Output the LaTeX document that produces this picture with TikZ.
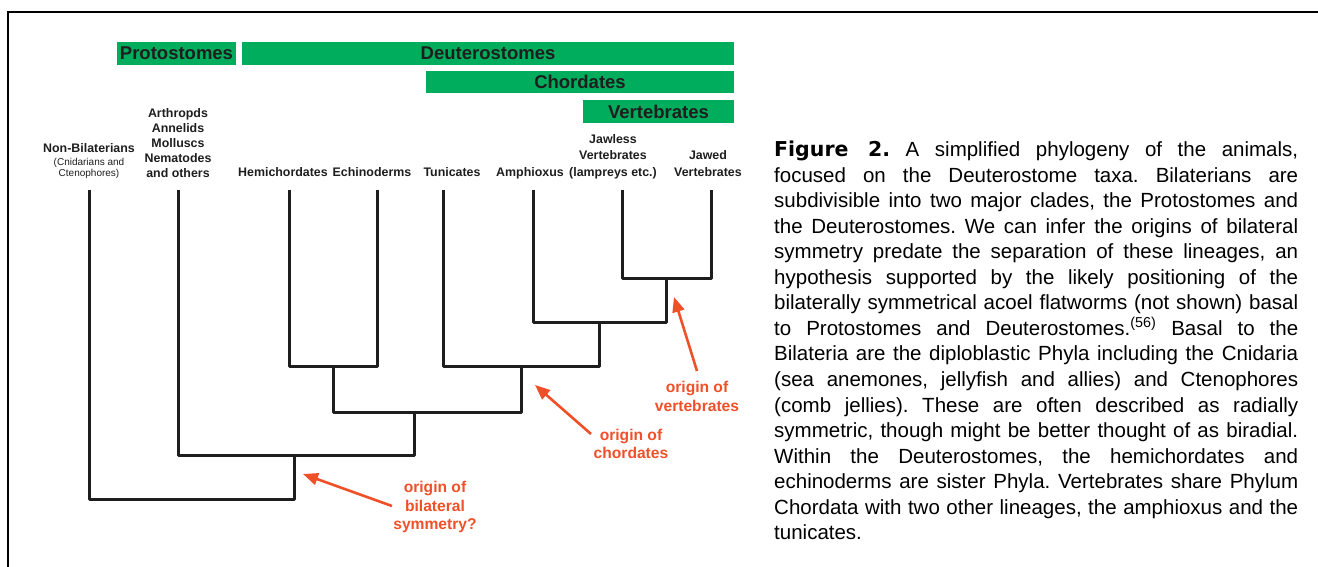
\documentclass[tikz,border=0pt]{standalone}
\usepackage{fontspec}
\setmainfont{Liberation Sans}
\newfontfamily\dejavu{DejaVu Sans}
\usetikzlibrary{arrows.meta}
\frenchspacing
\definecolor{cladegreen}{RGB}{0,173,92}
\definecolor{annot}{RGB}{240,80,40}
\definecolor{ink}{RGB}{30,30,30}
\tikzset{
  clade/.style={fill=cladegreen, inner sep=0pt, font=\bfseries\fontsize{18.5}{20}\selectfont, text=ink},
  leaflabel/.style={anchor=south, inner sep=0pt, text depth=0pt, align=center, font=\bfseries\fontsize{12.4}{15}\selectfont, text=ink},
  branch/.style={line width=3pt, draw=ink, line join=round},
  note/.style={anchor=south, inner sep=0pt, text depth=0pt, align=center, font=\bfseries\fontsize{15.6}{18.5}\selectfont, text=annot},
  pointer/.style={line width=2.6pt, draw=annot, -{Triangle[length=15pt,width=12pt]}},
  framestyle/.style={line width=2.5pt, draw=black},
}
\begin{document}
\begin{tikzpicture}[x=1pt,y=-1pt]
\useasboundingbox (0,0) rectangle (1318,567);
% frame
\draw[framestyle] (8,570) -- (8,12) -- (1320,12);
% clade bars
\node[clade, minimum width=119pt, minimum height=23pt] (pro) at (176.5,53.5) {Protostomes};
\node[clade, minimum width=492pt, minimum height=23pt] (deu) at (488,53.5) {Deuterostomes};
\node[clade, minimum width=308pt, minimum height=22pt] (cho) at (580,82) {Chordates};
\node[clade, minimum width=151pt, minimum height=23pt] (ver) at (658.5,111.5) {Vertebrates};
% leaf labels
\node[leaflabel] (lnb) at (89,153) {Non-Bilaterians};
\node[leaflabel, font=\fontsize{10}{11}\selectfont] (lnbs) at (89,176.5) {(Cnidarians and\\Ctenophores)};
\node[leaflabel] (lar) at (178,178) {Arthropds\\Annelids\\Molluscs\\Nematodes\\and others};
\node[leaflabel] (lhe) at (283,176.5) {Hemichordates};
\node[leaflabel] (lec) at (372,176.5) {Echinoderms};
\node[leaflabel] (ltu) at (452,176.5) {Tunicates};
\node[leaflabel] (lam) at (530,176.5) {Amphioxus};
\node[leaflabel, font=\bfseries\fontsize{12.4}{16.5}\selectfont] (ljl) at (613,176.5) {Jawless\\Vertebrates\\(lampreys etc.)};
\node[leaflabel, font=\bfseries\fontsize{12.4}{16.5}\selectfont] (ljw) at (708,176.5) {Jawed\\Vertebrates};
% leaf tips
\coordinate (nb) at (89,190);
\coordinate (ar) at (178,190);
\coordinate (he) at (289,190);
\coordinate (ec) at (377,190);
\coordinate (tu) at (443,190);
\coordinate (am) at (533,190);
\coordinate (jl) at (622,190);
\coordinate (jw) at (711,190);
% internal nodes
\coordinate (vt) at (666,278);
\coordinate (ca) at (599,322);
\coordinate (ch) at (521,366);
\coordinate (hx) at (333,366);
\coordinate (dt) at (414,412);
\coordinate (bl) at (294,455);
\coordinate (rt) at (294,499);
% branches
\draw[branch] (jl) |- (vt) -| (jw);
\draw[branch] (am) |- (ca) -| (vt);
\draw[branch] (tu) |- (ch) -| (ca);
\draw[branch] (he) |- (hx) -| (ec);
\draw[branch] (hx) |- (dt) -| (ch);
\draw[branch] (ar) |- (bl) -| (dt);
\draw[branch] (nb) |- (rt) -- (bl);
% annotations
\node[note] (nv) at (697,411.5) {origin of\\vertebrates};
\node[note] (nc) at (631,459) {origin of\\chordates};
\node[note] (nbs) at (435,530) {origin of\\bilateral\\symmetry?};
\coordinate (av0) at (697,371);
\coordinate (av1) at (674,297);
\coordinate (ac0) at (591,434);
\coordinate (ac1) at (535,385);
\coordinate (ab0) at (392,506);
\coordinate (ab1) at (303,474);
\draw[pointer] (av0) -- (av1);
\draw[pointer] (ac0) -- (ac1);
\draw[pointer] (ab0) -- (ab1);
% caption
\node[anchor=south west, inner sep=0pt, text depth=0pt, align=left, font=\fontsize{20.5}{25.55}\selectfont, text=black] (cap) at (774,540) {%
\makebox[524pt][s]{{\dejavu\bfseries Figure 2.} A simplified phylogeny of the animals,}\\
\makebox[524pt][s]{focused on the Deuterostome taxa. Bilaterians are}\\
\makebox[524pt][s]{subdivisible into two major clades, the Protostomes and}\\
\makebox[524pt][s]{the Deuterostomes. We can infer the origins of bilateral}\\
\makebox[524pt][s]{symmetry predate the separation of these lineages, an}\\
\makebox[524pt][s]{hypothesis supported by the likely positioning of the}\\
\makebox[524pt][s]{bilaterally symmetrical acoel flatworms (not shown) basal}\\
\makebox[524pt][s]{to Protostomes and Deuterostomes.\textsuperscript{(56)} Basal to the}\\
\makebox[524pt][s]{Bilateria are the diploblastic Phyla including the Cnidaria}\\
\makebox[524pt][s]{(sea anemones, jellyfish and allies) and Ctenophores}\\
\makebox[524pt][s]{(comb jellies). These are often described as radially}\\
\makebox[524pt][s]{symmetric, though might be better thought of as biradial.}\\
\makebox[524pt][s]{Within the Deuterostomes, the hemichordates and}\\
\makebox[524pt][s]{echinoderms are sister Phyla. Vertebrates share Phylum}\\
\makebox[524pt][s]{Chordata with two other lineages, the amphioxus and the}\\
tunicates.};
\end{tikzpicture}
\end{document}
